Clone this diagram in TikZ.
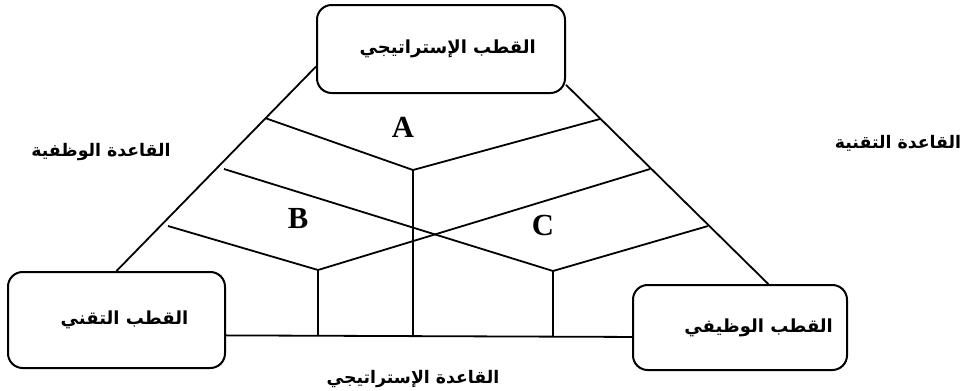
\documentclass[tikz,border=0pt]{standalone}
\usepackage{fontspec}
\setmainfont{Liberation Serif}
\newfontfamily\arabicfont[Script=Arabic]{DejaVu Sans}
\TeXXeTstate=1
\begin{document}
\begin{tikzpicture}[x=0.75pt,y=-0.75pt,
  pole/.style={draw, line width=1.5pt, rounded corners=11pt, inner sep=0pt,
    font=\arabicfont\bfseries\fontsize{13.5}{15}\selectfont},
  edge/.style={line width=1.35pt, line join=miter},
  base/.style={font=\arabicfont\bfseries\fontsize{13}{15}\selectfont},
  zone/.style={font=\bfseries\fontsize{23}{26}\selectfont}]
\useasboundingbox (0,0) rectangle (960,390);

% the three poles
\node[pole, minimum width=186pt, minimum height=66pt] (strat) at (441,49)
  {\hspace{10pt}\beginR القطب الإستراتيجي\endR};
\node[pole, minimum width=162.75pt, minimum height=72pt] (tech) at (116.5,320)
  {\hspace{12pt}\beginR القطب التقني\endR};
\node[pole, minimum width=160.5pt, minimum height=63.75pt] (func) at (740,327.5)
  {\hspace{28pt}\beginR القطب الوظيفي\endR};

% outer triangle joining the poles
\draw[edge] (strat.188) -- (tech.north);
\draw[edge] (strat.344.7) -- (func.57.6);
\draw[edge] (tech.352.1) -- (func.185.6);

% inner partition
\coordinate (p1l) at (265,118);
\coordinate (a1)  at (413,170);
\coordinate (p1r) at (600,119);
\coordinate (p2l) at (224,169);
\coordinate (c1)  at (553,271);
\coordinate (p2r) at (708,226);
\coordinate (p3l) at (168,226);
\coordinate (b1)  at (318,270);
\coordinate (p3r) at (650,169);
\coordinate (a0)  at (413,337);
\coordinate (b0)  at (318,335);
\coordinate (c0)  at (553,336);

\draw[edge] (p1l) -- (a1) -- (p1r);
\draw[edge] (p2l) -- (c1) -- (p2r);
\draw[edge] (p3l) -- (b1) -- (p3r);
\draw[edge] (a1) -- (a0);
\draw[edge] (b1) -- (b0);
\draw[edge] (c1) -- (c0);

% zone letters
\node[zone] (za) at (403,127) {A};
\node[zone] (zb) at (298,218) {B};
\node[zone] (zc) at (543,225) {C};

% bases
\node[base] (bl) at (101,152) {\beginR القاعدة الوظفية\endR};
\node[base] (br) at (898,143) {\beginR القاعدة التقنية\endR};
\node[base] (bb) at (413,379) {\beginR القاعدة الإستراتيجي\endR};
\end{tikzpicture}
\end{document}
